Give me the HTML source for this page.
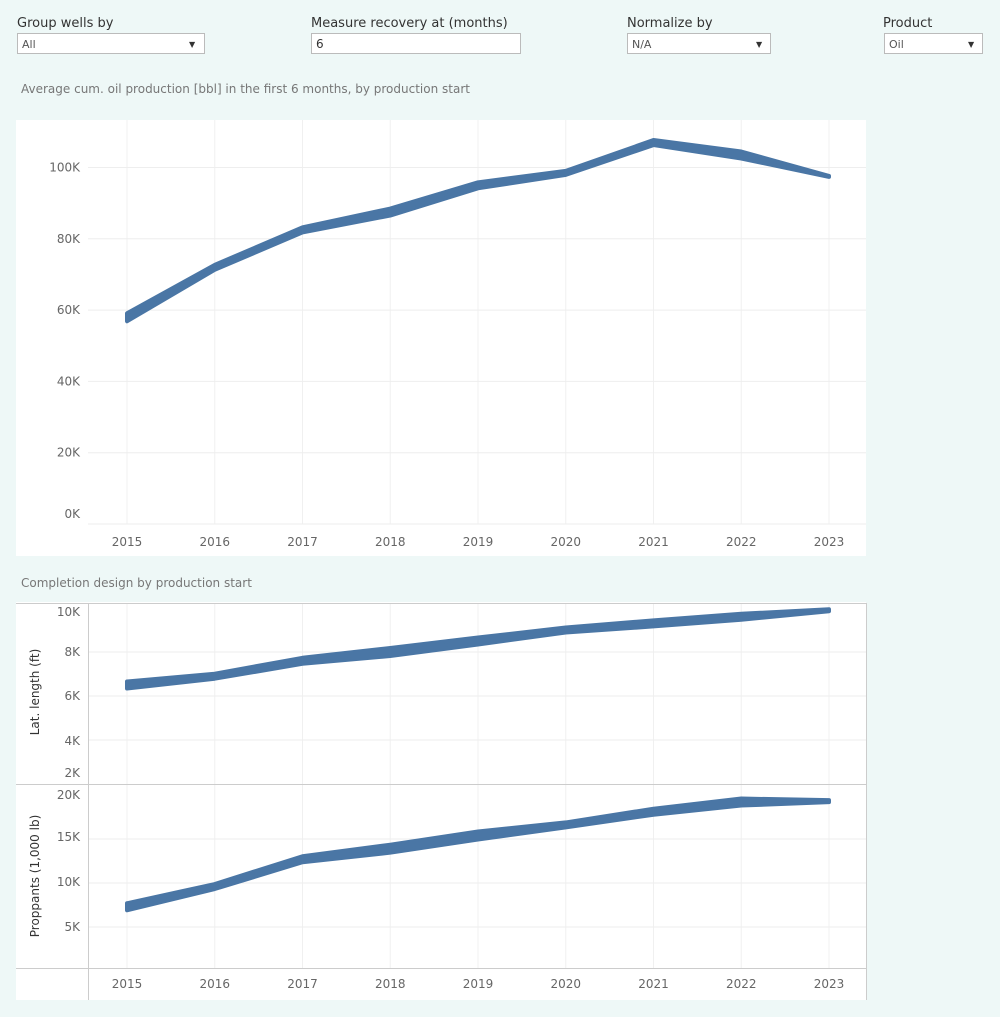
<!DOCTYPE html>
<html><head><meta charset="utf-8"><style>
body{margin:0;background:#eef8f7;font-family:"DejaVu Sans","Liberation Sans",sans-serif;}
svg{display:block}
</style></head><body>
<svg id="s" width="1000" height="1017" xmlns="http://www.w3.org/2000/svg" font-family="DejaVu Sans, Liberation Sans, sans-serif">
<rect width="1000" height="1017" fill="#eef8f7"/>
<g font-size="13" fill="#333">
<text x="17" y="27">Group wells by</text>
<text x="311" y="27">Measure recovery at (months)</text>
<text x="627" y="27">Normalize by</text>
<text x="883" y="27">Product</text>
</g>
<g stroke="#bbb" fill="#fff">
<rect x="17.5" y="33.5" width="187" height="20"/>
<rect x="311.5" y="33.5" width="209" height="20"/>
<rect x="627.5" y="33.5" width="143" height="20"/>
<rect x="884.5" y="33.5" width="98" height="20"/>
</g>
<g font-size="11" fill="#555">
<text x="22" y="48">All</text>
<text x="316" y="48" font-size="12" fill="#333">6</text>
<text x="632" y="48">N/A</text>
<text x="889" y="48">Oil</text>
</g>
<g font-size="8" fill="#333"><text x="189" y="47">▼</text><text x="756" y="47">▼</text><text x="968" y="47">▼</text></g>
<text x="21" y="93" font-size="12" fill="#777">Average cum. oil production [bbl] in the first 6 months, by production start</text>
<text x="21" y="587" font-size="12" fill="#777">Completion design by production start</text>
<rect x="16" y="120" width="850" height="436" fill="#fff"/>
<rect x="16" y="602" width="850" height="398" fill="#fff"/>
<g id="g1"></g>
</svg>
<script>
var s=document.getElementById('g1'),NS="http://www.w3.org/2000/svg";
function el(t,a,txt){var e=document.createElementNS(NS,t);for(var k in a)e.setAttribute(k,a[k]);if(txt)e.textContent=txt;s.appendChild(e);return e;}
var X=[],years=[];for(var i=0;i<9;i++){X.push(127+i*87.75);years.push(2015+i);}
function band(ys,th){var up=[],dn=[];for(var i=0;i<9;i++){up.push(X[i]+','+(ys[i]-th[i]/2));dn.unshift(X[i]+','+(ys[i]+th[i]/2));}
el('polygon',{points:up.concat(dn).join(' '),fill:'#4a76a5',stroke:'#4a76a5','stroke-width':4,'stroke-linejoin':'round'});}
for(var i=0;i<9;i++){el('line',{x1:X[i],x2:X[i],y1:120,y2:524,stroke:'#f0f0f0'});}
var tk=[0,20,40,60,80,100];
tk.forEach(function(v){var y=524-v*3.565;el('line',{x1:88,x2:866,y1:y,y2:y,stroke:'#eee'});el('text',{x:80,y:(v==0?518:y+4),'font-size':12,fill:'#666','text-anchor':'end'},v+'K');});
var v1=[58,72,82.5,87.5,95,98.5,107,103.5,97.5];
band(v1.map(function(v){return 524-v*3.565}),[8,5,5,7,6,4,5,7,1]);
years.forEach(function(y,i){el('text',{x:X[i],y:546,'font-size':12,fill:'#666','text-anchor':'middle'},y);});
for(var i=0;i<9;i++){el('line',{x1:X[i],x2:X[i],y1:604,y2:968,stroke:'#f0f0f0'});}
el('line',{x1:16,x2:866,y1:603.5,y2:603.5,stroke:'#ccc'});
el('line',{x1:16,x2:866,y1:784.5,y2:784.5,stroke:'#ccc'});
el('line',{x1:16,x2:866,y1:968.5,y2:968.5,stroke:'#ccc'});
el('line',{x1:88.5,x2:88.5,y1:603,y2:1000,stroke:'#ccc'});
el('line',{x1:866.5,x2:866.5,y1:603,y2:1000,stroke:'#ccc'});
[[10,612],[8,652],[6,696],[4,741],[2,773]].forEach(function(a){var gy=784-(a[0]-2)*22;if(a[0]>2&&a[0]<10)el('line',{x1:89,x2:866,y1:gy,y2:gy,stroke:'#eee'});el('text',{x:80,y:a[1]+4,'font-size':12,fill:'#666','text-anchor':'end'},a[0]+'K');});
[[20,795],[15,837],[10,882],[5,927]].forEach(function(a){var gy=971-a[0]*8.8;if(a[0]<20)el('line',{x1:89,x2:866,y1:gy,y2:gy,stroke:'#eee'});el('text',{x:80,y:a[1]+4,'font-size':12,fill:'#666','text-anchor':'end'},a[0]+'K');});
var lat=[6.5,6.9,7.6,8.0,8.5,9.0,9.3,9.6,9.9];
band(lat.map(function(v){return 784-(v-2)*22}),[7,5,6,8,7,5,6,6,2]);
var pr=[7.3,9.6,12.7,13.9,15.4,16.6,18.1,19.2,19.3];
band(pr.map(function(v){return 971-v*8.8}),[7,5,6,8,8,5,6,7,2]);
el('text',{transform:'translate(39,692) rotate(-90)','font-size':12,fill:'#333','text-anchor':'middle'},'Lat. length (ft)');
el('text',{transform:'translate(39,876) rotate(-90)','font-size':12,fill:'#333','text-anchor':'middle'},'Proppants (1,000 lb)');
years.forEach(function(y,i){el('text',{x:X[i],y:988,'font-size':12,fill:'#666','text-anchor':'middle'},y);});
</script>
</body></html>
